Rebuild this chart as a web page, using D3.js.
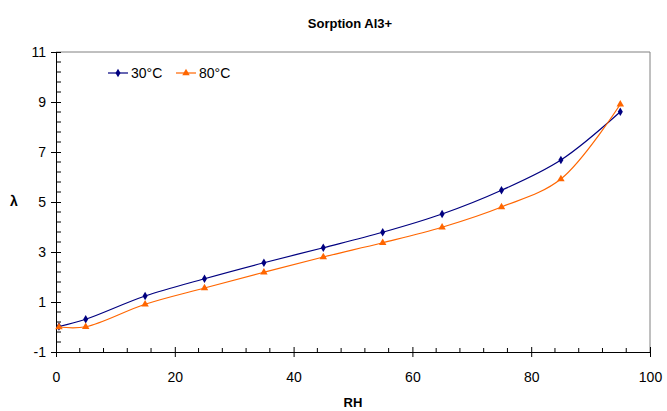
<!DOCTYPE html>
<html>
<head>
<meta charset="utf-8">
<script src="https://cdn.jsdelivr.net/npm/d3@7"></script>
<style>
  body { margin: 0; background: #fff; }
  text { font-family: "Liberation Sans", Arial, sans-serif; }
</style>
</head>
<body>
<svg width="667" height="411"></svg>
<script>
// Data
const rh = [0.5, 5, 15, 25, 35, 45, 55, 65, 75, 85, 95];
const lambda30 = [0.02, 0.31, 1.24, 1.93, 2.57, 3.17, 3.79, 4.52, 5.47, 6.68, 8.61];
const lambda80 = [0.0, 0.01, 0.91, 1.56, 2.19, 2.8, 3.37, 3.99, 4.8, 5.92, 8.91];
const seriesNames = ["30°C", "80°C"];
const xTicks = [0, 20, 40, 60, 80, 100];
const yTicks = [-1, 1, 3, 5, 7, 9, 11];

const svg = d3.select("svg"),
  width = +svg.attr("width"),
  height = +svg.attr("height");

const margin = { left: 56, right: 17, top: 52, bottom: 59 };

const x = d3.scaleLinear().domain([0, 100]).range([margin.left, width - margin.right]);
const y = d3.scaleLinear().domain([-1, 11]).range([height - margin.bottom, margin.top]);

// Title
svg.append("text")
  .attr("x", 350).attr("y", 28)
  .attr("text-anchor", "middle")
  .style("font-size", "13px").style("font-weight", "bold")
  .text("Sorption Al3+");

// Frame (top/right)
svg.append("path")
  .attr("d", `M${x(0)},${y(11)}H${x(100)}V${y(-1)}`)
  .attr("fill", "none").attr("stroke", "#808080").attr("stroke-width", 1);

// Minor ticks
const minorX = d3.range(0, 100.01, 4).filter(v => v % 20 !== 0);
svg.append("g").selectAll("line").data(minorX).join("line")
  .attr("x1", d => x(d)).attr("x2", d => x(d))
  .attr("y1", y(-1)).attr("y2", y(-1) - 4)
  .attr("stroke", "#000");
const minorY = d3.range(-1, 11.01, 0.4).filter(v => Math.abs(((v + 1) / 2) - Math.round((v + 1) / 2)) > 0.01);
svg.append("g").selectAll("line").data(minorY).join("line")
  .attr("x1", x(0)).attr("x2", x(0) + 5)
  .attr("y1", d => y(d)).attr("y2", d => y(d))
  .attr("stroke", "#000");

// Axes
const xAxis = svg.append("g")
  .attr("transform", `translate(0,${y(-1)})`)
  .call(d3.axisBottom(x).tickValues(xTicks).tickFormat(d => String(d))
    .tickSizeInner(5).tickSizeOuter(0).tickPadding(15));
xAxis.selectAll(".tick line").attr("y1", -5);
const yAxis = svg.append("g")
  .attr("transform", `translate(${x(0)},0)`)
  .call(d3.axisLeft(y).tickValues(yTicks).tickFormat(d => String(d))
    .tickSizeInner(5).tickSizeOuter(0).tickPadding(5));
yAxis.selectAll(".tick line").attr("x1", 5).attr("x2", -5);
svg.selectAll(".domain").attr("stroke", "#000");
svg.selectAll(".tick text").style("font-size", "14px").attr("fill", "#000");

// Axis titles
svg.append("text")
  .attr("x", 353).attr("y", 407)
  .attr("text-anchor", "middle")
  .style("font-size", "13px").style("font-weight", "bold")
  .text("RH");
svg.append("text")
  .attr("x", 14).attr("y", 206)
  .attr("text-anchor", "middle")
  .style("font-size", "14px").style("font-weight", "bold")
  .text("λ");

// Series
const series = [
  { name: seriesNames[0], values: lambda30, color: "#000080", symbol: d3.symbolDiamond, size: 22 },
  { name: seriesNames[1], values: lambda80, color: "#FF6600", symbol: d3.symbolTriangle, size: 24 }
];

const line = d3.line()
  .x(d => x(d[0])).y(d => y(d[1]))
  .curve(d3.curveCatmullRom.alpha(0.5));

series.forEach(s => {
  const pts = rh.map((r, i) => [r, s.values[i]]);
  svg.append("path")
    .datum(pts)
    .attr("d", line)
    .attr("fill", "none")
    .attr("stroke", s.color)
    .attr("stroke-width", 1.2);
  svg.append("g").selectAll("path").data(pts).join("path")
    .attr("transform", d => `translate(${x(d[0])},${y(d[1])})`)
    .attr("d", d3.symbol().type(s.symbol).size(s.size))
    .attr("fill", s.color);
});

// Legend
const legend = svg.append("g");
series.forEach((s, i) => {
  const lx = 108 + i * 68, ly = 73;
  legend.append("line")
    .attr("x1", lx).attr("x2", lx + 20)
    .attr("y1", ly).attr("y2", ly)
    .attr("stroke", s.color).attr("stroke-width", 1.2);
  legend.append("path")
    .attr("transform", `translate(${lx + 10},${ly})`)
    .attr("d", d3.symbol().type(s.symbol).size(s.size))
    .attr("fill", s.color);
  legend.append("text")
    .attr("x", lx + 23).attr("y", ly + 5)
    .style("font-size", "14px")
    .text(s.name);
});
</script>
</body>
</html>
